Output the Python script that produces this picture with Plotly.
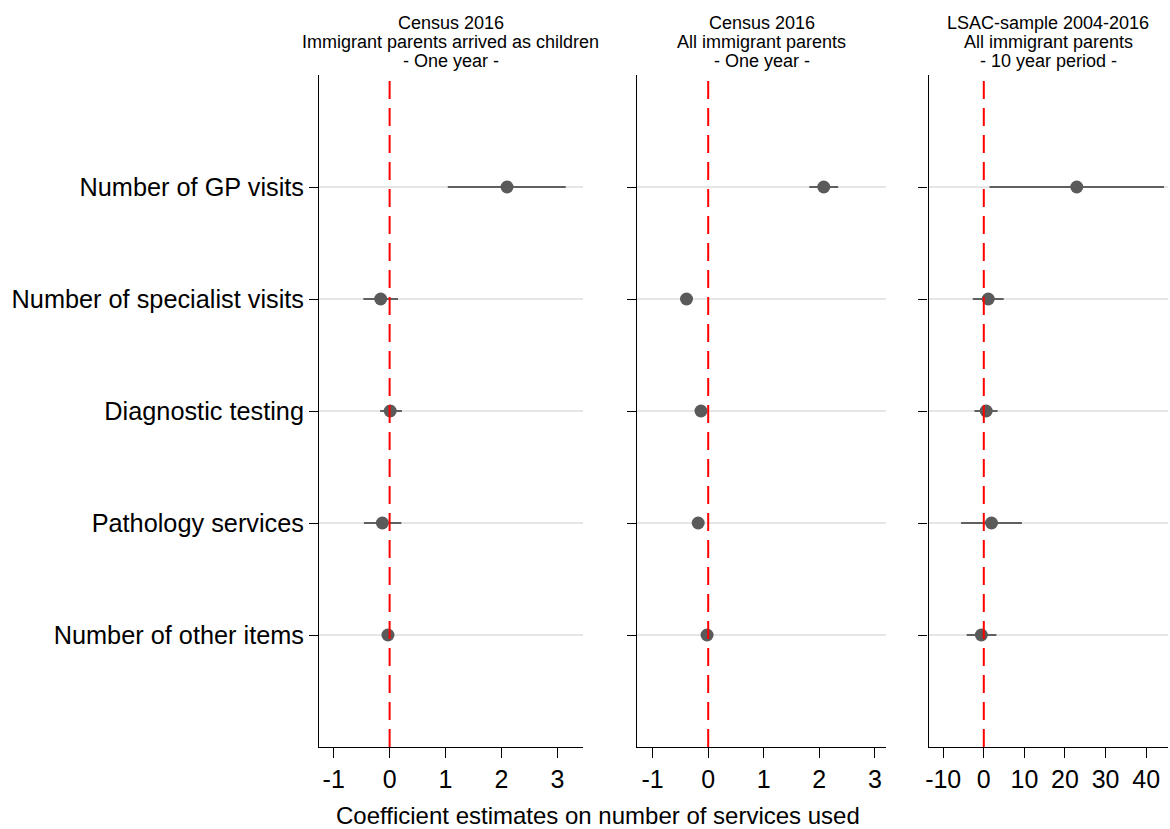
import plotly.graph_objects as go

# Outcomes (top to bottom)
outcomes = [
    "Number of GP visits",
    "Number of specialist visits",
    "Diagnostic testing",
    "Pathology services",
    "Number of other items",
]

# Panel 1: Census 2016, immigrant parents arrived as children (one year)
p1_coef = [2.10, -0.16, 0.01, -0.13, -0.03]
p1_lo = [1.04, -0.47, -0.17, -0.46, -0.10]
p1_hi = [3.15, 0.15, 0.22, 0.21, 0.04]

# Panel 2: Census 2016, all immigrant parents (one year)
p2_coef = [2.08, -0.39, -0.13, -0.18, -0.02]
p2_lo = [1.82, -0.47, -0.19, -0.24, -0.07]
p2_hi = [2.34, -0.31, -0.07, -0.12, 0.03]

# Panel 3: LSAC sample 2004-2016, all immigrant parents (10 year period)
p3_coef = [22.9, 1.1, 0.6, 1.9, -0.6]
p3_lo = [1.4, -2.7, -2.3, -5.6, -4.2]
p3_hi = [44.4, 4.9, 3.4, 9.4, 3.1]

panel_titles = [
    ["Census 2016", "Immigrant parents arrived as children", "- One year -"],
    ["Census 2016", "All immigrant parents", "- One year -"],
    ["LSAC-sample 2004-2016", "All immigrant parents", "- 10 year period -"],
]

x_ticks = [
    [-1, 0, 1, 2, 3],
    [-1, 0, 1, 2, 3],
    [-10, 0, 10, 20, 30, 40],
]
x_ranges = [[-1.26, 3.45], [-1.275, 3.196], [-13.59, 45.38]]

W, H = 1170, 829
FONT = "Liberation Sans, Arial, sans-serif"
POINT = "#5a5a5a"
CI = "#606060"

# panel placement in pixels
px_domains = [(317, 581), (636, 885), (928, 1168)]
y_top, y_bot = 75, 747

panels = [
    (p1_coef, p1_lo, p1_hi),
    (p2_coef, p2_lo, p2_hi),
    (p3_coef, p3_lo, p3_hi),
]

ypos = list(range(1, len(outcomes) + 1))

fig = go.Figure()
layout = dict(
    width=W,
    height=H,
    margin=dict(l=0, r=0, t=0, b=0),
    paper_bgcolor="white",
    plot_bgcolor="white",
    showlegend=False,
    font=dict(family=FONT, color="black"),
    shapes=[],
    annotations=[],
)

for i, (coef, lo, hi) in enumerate(panels):
    n = "" if i == 0 else str(i + 1)
    xa, ya = "x" + n, "y" + n
    fig.add_trace(
        go.Scatter(
            x=coef,
            y=ypos,
            xaxis=xa,
            yaxis=ya,
            mode="markers",
            marker=dict(size=13, color=POINT),
            error_x=dict(
                type="data",
                symmetric=False,
                array=[h - c for h, c in zip(hi, coef)],
                arrayminus=[c - l for c, l in zip(coef, lo)],
                color=CI,
                thickness=2.2,
                width=0,
            ),
            hoverinfo="skip",
        )
    )
    d0, d1 = px_domains[i]
    layout["xaxis" + n] = dict(
        domain=[d0 / W, d1 / W],
        range=x_ranges[i],
        anchor=ya,
        tickvals=x_ticks[i],
        ticktext=[str(v) for v in x_ticks[i]],
        ticks="outside",
        ticklen=10,
        tickwidth=1.3,
        tickcolor="black",
        showline=True,
        linecolor="black",
        linewidth=1.3,
        showgrid=False,
        zeroline=False,
        tickfont=dict(size=25, family=FONT, color="black"),
        fixedrange=True,
    )
    layout["yaxis" + n] = dict(
        domain=[(H - y_bot) / H, (H - y_top) / H],
        range=[len(outcomes) + 1, 0],
        anchor=xa,
        tickvals=ypos,
        ticktext=outcomes if i == 0 else [""] * len(outcomes),
        showticklabels=(i == 0),
        ticks="outside",
        ticklen=9,
        tickwidth=1.3,
        tickcolor="black",
        showline=True,
        linecolor="black",
        linewidth=1.3,
        showgrid=True,
        gridcolor="#e6e6e6",
        gridwidth=2,
        zeroline=False,
        tickfont=dict(size=25.3, family=FONT, color="black"),
        fixedrange=True,
    )
    # reference line at zero
    layout["shapes"].append(
        dict(
            type="line",
            xref=xa,
            yref=ya + " domain",
            x0=0,
            x1=0,
            y0=0,
            y1=1,
            line=dict(color="red", width=2, dash="18px,9px"),
            layer="above",
        )
    )
    # three-line panel heading
    cx = (d0 + d1) / 2 / W
    for k, line in enumerate(panel_titles[i]):
        yc = 23 + 19 * k
        layout["annotations"].append(
            dict(
                text=line,
                xref="paper",
                yref="paper",
                x=cx,
                y=(H - yc) / H,
                xanchor="center",
                yanchor="middle",
                showarrow=False,
                font=dict(size=18, family=FONT, color="black"),
            )
        )

layout["annotations"].append(
    dict(
        text="Coefficient estimates on number of services used",
        xref="paper",
        yref="paper",
        x=597 / W,
        y=(H - 815) / H,
        xanchor="center",
        yanchor="middle",
        showarrow=False,
        font=dict(size=24, family=FONT, color="black"),
    )
)

fig.update_layout(**layout)
fig.write_html("out.html", config={"displayModeBar": False})
